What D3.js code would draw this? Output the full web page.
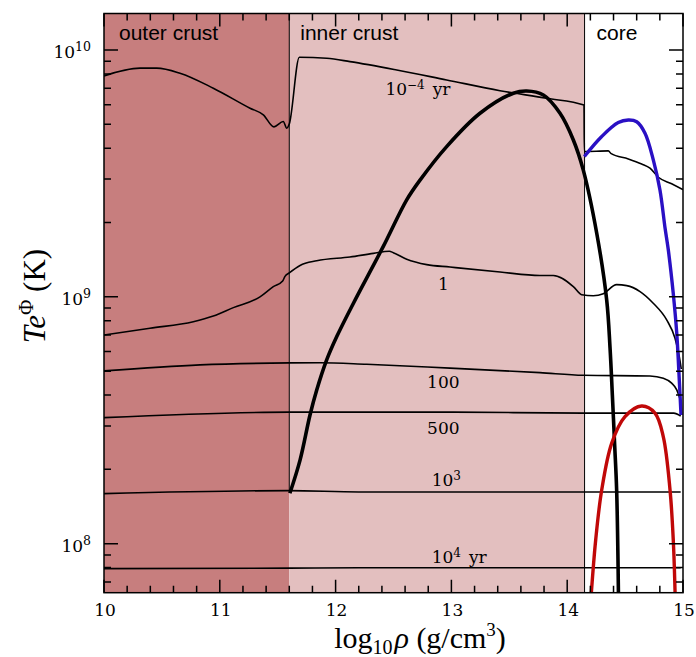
<!DOCTYPE html>
<html>
<head>
<meta charset="utf-8">
<script src="https://cdn.jsdelivr.net/npm/d3@7"></script>
<style>
  body { margin: 0; background: #fff; }
</style>
</head>
<body>
<svg width="696" height="657"></svg>
<script>
// layer boundaries in log10 rho
const layerNames = ["outer crust", "inner crust", "core"];
const layerEdges = [10, 11.6, 14.15, 15];

// cooling profiles, [log10 rho, T e^Phi (K)]
const prof1em4 = [
  [10.0, 7.85e9], [10.311, 8.44e9], [10.455, 8.44e9], [10.656, 8.05e9], [10.944, 7.0e9],
  [11.261, 5.81e9], [11.376, 5.46e9], [11.468, 4.88e9], [11.548, 5.13e9], [11.578, 4.82e9],
  [11.60, 5.01e9], [11.687, 9.34e9], [11.923, 9.25e9], [12.124, 8.97e9], [12.528, 8.30e9],
  [12.959, 7.56e9], [13.42, 6.84e9], [13.823, 6.37e9], [14.145, 5.98e9], [14.148, 3.88e9],
  [14.355, 3.90e9], [14.38, 3.80e9], [14.528, 3.62e9], [14.643, 3.45e9], [14.715, 3.32e9],
  [14.787, 3.05e9], [14.902, 2.87e9], [15.0, 2.72e9]
];
const prof1 = [
  [10.0, 7.0e8], [10.397, 7.46e8], [10.771, 7.93e8], [10.944, 8.36e8], [11.117, 9.04e8],
  [11.347, 1.0e9], [11.462, 1.10e9], [11.543, 1.16e9], [11.563, 1.21e9], [11.60, 1.25e9],
  [11.693, 1.34e9], [11.837, 1.40e9], [12.124, 1.45e9], [12.326, 1.50e9], [12.464, 1.53e9],
  [12.498, 1.51e9], [12.614, 1.42e9], [12.787, 1.35e9], [12.988, 1.32e9], [13.42, 1.26e9],
  [13.765, 1.22e9], [13.88, 1.22e9], [14.053, 1.10e9], [14.125, 1.02e9], [14.225, 1.01e9],
  [14.312, 1.03e9], [14.427, 1.12e9], [14.514, 1.11e9], [14.629, 1.05e9], [14.743, 9.42e8],
  [14.859, 8.06e8], [14.931, 6.79e8], [14.968, 5.72e8], [14.985, 5.1e8]
];
const prof100 = [
  [10.0, 5.01e8], [10.829, 5.30e8], [11.60, 5.40e8], [11.865, 5.41e8], [12.269, 5.33e8],
  [12.988, 5.14e8], [13.765, 4.93e8], [14.139, 4.81e8], [14.715, 4.78e8], [14.83, 4.68e8],
  [14.902, 4.47e8], [14.946, 4.20e8], [14.968, 3.94e8], [14.983, 3.75e8]
];
const prof500 = [
  [10.0, 3.24e8], [11.6, 3.41e8], [12.988, 3.41e8], [14.14, 3.38e8], [14.92, 3.38e8], [14.98, 3.29e8]
];
const prof1e3 = [[10.0, 1.595e8], [11.6, 1.64e8], [12.2, 1.62e8], [14.98, 1.62e8]];
const prof1e4 = [[10.0, 7.92e7], [11.6, 7.96e7], [12.2, 7.99e7], [14.98, 7.99e7]];

// critical temperature curves
const tcNeutron = [
  [11.605, 1.60e8], [11.693, 2.18e8], [11.779, 3.32e8], [11.837, 4.19e8], [11.923, 5.55e8],
  [12.01, 6.90e8], [12.153, 9.4e8], [12.412, 1.60e9], [12.614, 2.47e9], [12.729, 2.97e9],
  [12.959, 4.06e9], [13.247, 5.54e9], [13.535, 6.68e9], [13.65, 6.82e9], [13.794, 6.57e9],
  [13.938, 5.54e9], [14.053, 4.32e9], [14.139, 3.26e9], [14.255, 1.81e9], [14.341, 9.71e8],
  [14.37, 6.2e8], [14.39, 4.0e8], [14.41, 2.5e8], [14.427, 1.65e8], [14.443, 6.0e7]
];
const tcBlue = [
  [14.148, 3.70e9], [14.298, 4.46e9], [14.441, 5.08e9], [14.528, 5.20e9], [14.60, 5.12e9],
  [14.672, 4.60e9], [14.744, 3.58e9], [14.801, 2.71e9], [14.845, 1.90e9], [14.873, 1.55e9],
  [14.916, 1.03e9], [14.946, 7.12e8], [14.968, 4.60e8], [14.983, 3.32e8]
];
const tcRed = [
  [14.205, 6.0e7], [14.246, 1.035e8], [14.298, 1.65e8], [14.384, 2.55e8], [14.499, 3.27e8],
  [14.643, 3.61e8], [14.758, 3.38e8], [14.83, 2.71e8], [14.888, 1.65e8], [14.916, 1.035e8],
  [14.933, 6.0e7]
];

const xTicks = [10, 11, 12, 13, 14, 15];
const yDecades = [8, 9, 10];

const svg = d3.select("svg");
const pLeft = 104, pRight = 683, pTop = 13.5, pBottom = 592.7;

const x = d3.scaleLinear().domain([10, 15]).range([pLeft, pRight]);
const y = d3.scaleLog().domain([6.33e7, 1.405e10]).range([pBottom, pTop]);

svg.append("defs").append("clipPath").attr("id", "plot")
  .append("rect")
    .attr("x", pLeft).attr("y", pTop)
    .attr("width", pRight - pLeft).attr("height", pBottom - pTop);

// layer backgrounds
const layerFill = ["#c77e7e", "#e3bfbf", "#ffffff"];
svg.append("g")
  .selectAll("rect")
  .data(layerNames)
  .join("rect")
    .attr("x", (d, i) => x(layerEdges[i]))
    .attr("y", pTop)
    .attr("width", (d, i) => x(layerEdges[i + 1]) - x(layerEdges[i]))
    .attr("height", pBottom - pTop)
    .attr("fill", (d, i) => layerFill[i]);

// boundary lines
svg.append("line")
    .attr("x1", x(layerEdges[1])).attr("x2", x(layerEdges[1]))
    .attr("y1", pTop).attr("y2", y(1.63e8))
    .attr("stroke", "#000").attr("stroke-width", 1);
svg.append("line")
    .attr("x1", x(layerEdges[2])).attr("x2", x(layerEdges[2]))
    .attr("y1", pTop).attr("y2", pBottom)
    .attr("stroke", "#000").attr("stroke-width", 1);

svg.append("g")
    .attr("font-family", "Liberation Sans, Arial, sans-serif")
    .attr("font-size", 21)
  .selectAll("text")
  .data(layerNames)
  .join("text")
    .attr("x", (d, i) => x(layerEdges[i]) + [15, 11, 12][i])
    .attr("y", 39.5)
    .text(d => d);

// curves
const thin = d3.line()
    .x(d => x(d[0]))
    .y(d => y(d[1]))
    .curve(d3.curveMonotoneX);
const smooth = d3.line()
    .x(d => x(d[0]))
    .y(d => y(d[1]))
    .curve(d3.curveCatmullRom.alpha(0.5));

const curves = svg.append("g").attr("clip-path", "url(#plot)").attr("fill", "none");
[prof1em4, prof1, prof100, prof500, prof1e3, prof1e4].forEach(p => {
  curves.append("path")
      .attr("d", thin(p))
      .attr("stroke", "#000")
      .attr("stroke-width", 1.6)
      .attr("stroke-linejoin", "round");
});
curves.append("path").attr("d", smooth(tcNeutron))
    .attr("stroke", "#000").attr("stroke-width", 3.6);
curves.append("path").attr("d", smooth(tcBlue))
    .attr("stroke", "#2a10c4").attr("stroke-width", 3.4);
curves.append("path").attr("d", smooth(tcRed))
    .attr("stroke", "#c00808").attr("stroke-width", 3.4);

// curve labels
const lab = svg.append("g")
    .attr("font-family", "DejaVu Serif, serif")
    .attr("font-size", 17)
    .attr("fill", "#000");
const t1 = lab.append("text").attr("x", x(12.43)).attr("y", 95);
t1.append("tspan").text("10");
t1.append("tspan").attr("dy", -6).attr("font-size", 12).text("\u22124");
t1.append("tspan").attr("dy", 6).attr("dx", 8).text("yr");
lab.append("text").attr("x", x(12.93)).attr("y", 290).attr("text-anchor", "middle").text("1");
lab.append("text").attr("x", x(12.93)).attr("y", 388).attr("text-anchor", "middle").text("100");
lab.append("text").attr("x", x(12.93)).attr("y", 434).attr("text-anchor", "middle").text("500");
const t3 = lab.append("text").attr("x", x(12.83)).attr("y", 486);
t3.append("tspan").text("10");
t3.append("tspan").attr("dy", -6).attr("font-size", 12).text("3");
const t4 = lab.append("text").attr("x", x(12.83)).attr("y", 563);
t4.append("tspan").text("10");
t4.append("tspan").attr("dy", -6).attr("font-size", 12).text("4");
t4.append("tspan").attr("dy", 6).attr("dx", 8).text("yr");

// inward ticks on all four sides, drawn as one path
const minorX = d3.range(10, 15.001, 0.2).filter(v => Math.abs(v - Math.round(v)) > 1e-6);
const minorY = [];
[7, 8, 9, 10].forEach(e => d3.range(2, 10).forEach(k => {
  const v = k * Math.pow(10, e);
  if (v > y.domain()[0] && v < y.domain()[1]) minorY.push(v);
}));
const majorY = yDecades.map(e => Math.pow(10, e));

const tickPath = d3.path();
[...minorX.map(v => [v, 7]), ...xTicks.map(v => [v, 13])].forEach(([v, len]) => {
  const px = x(v);
  tickPath.moveTo(px, pBottom); tickPath.lineTo(px, pBottom - len);
  tickPath.moveTo(px, pTop); tickPath.lineTo(px, pTop + len);
});
[...minorY.map(v => [v, 7]), ...majorY.map(v => [v, 14])].forEach(([v, len]) => {
  const py = y(v);
  tickPath.moveTo(pLeft, py); tickPath.lineTo(pLeft + len, py);
  tickPath.moveTo(pRight, py); tickPath.lineTo(pRight - len, py);
});
svg.append("path")
    .attr("d", tickPath.toString())
    .attr("fill", "none")
    .attr("stroke", "#000")
    .attr("stroke-width", 1.5);

// tick labels
svg.append("g")
    .attr("font-family", "DejaVu Serif, serif")
    .attr("font-size", 17)
    .attr("text-anchor", "middle")
  .selectAll("text")
  .data(xTicks)
  .join("text")
    .attr("x", d => x(d) + 1)
    .attr("y", 616)
    .text(d3.format("d"));

svg.append("g")
    .attr("font-family", "DejaVu Serif, serif")
    .attr("font-size", 17)
    .attr("text-anchor", "end")
  .selectAll("text")
  .data(majorY)
  .join("text")
    .attr("x", pLeft - 13)
    .attr("y", d => y(d) + 8.5)
    .each(function(d) {
      const t = d3.select(this);
      t.append("tspan").text("10");
      t.append("tspan").attr("dy", -7).attr("font-size", 12.5).text(Math.round(Math.log10(d)));
    });

// frame
svg.append("rect")
    .attr("x", pLeft).attr("y", pTop)
    .attr("width", pRight - pLeft).attr("height", pBottom - pTop)
    .attr("fill", "none").attr("stroke", "#000").attr("stroke-width", 1.5);

// axis titles
const xt = svg.append("text")
    .attr("x", 420).attr("y", 648)
    .attr("text-anchor", "middle")
    .attr("font-family", "Liberation Serif, Times New Roman, serif")
    .attr("font-size", 30);
xt.append("tspan").text("log");
xt.append("tspan").attr("dy", 6).attr("font-size", 20).text("10");
xt.append("tspan").attr("dy", -6).attr("dx", 2).attr("font-style", "italic").text("\u03c1");
xt.append("tspan").text(" (g/cm");
xt.append("tspan").attr("dy", -12).attr("font-size", 19).text("3");
xt.append("tspan").attr("dy", 12).text(")");

const yt = svg.append("text")
    .attr("transform", "translate(45,296) rotate(-90)")
    .attr("text-anchor", "middle")
    .attr("font-family", "Liberation Serif, Times New Roman, serif")
    .attr("font-size", 31);
yt.append("tspan").attr("font-style", "italic").text("Te");
yt.append("tspan").attr("dy", -12).attr("font-size", 21).text("\u03a6");
yt.append("tspan").attr("dy", 12).text(" (K)");
</script>
</body>
</html>
